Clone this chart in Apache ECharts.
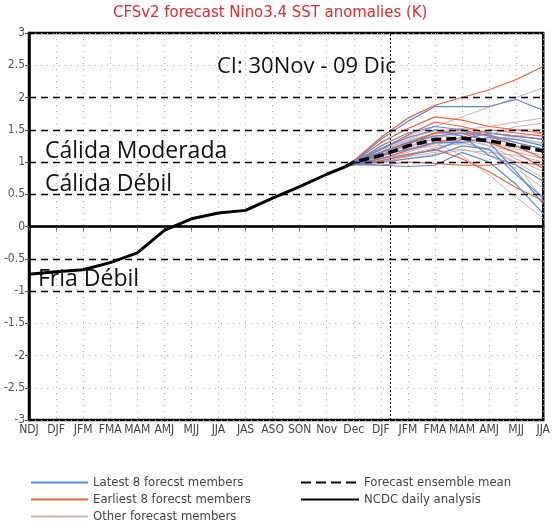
<!DOCTYPE html>
<html>
<head>
<meta charset="utf-8">
<script src="https://cdn.jsdelivr.net/npm/echarts@6/dist/echarts.min.js"></script>
<style>
  html, body { margin: 0; padding: 0; background: #fff; }
  #chart { width: 553px; height: 528px; }
</style>
</head>
<body>
<div id="chart"></div>
<script>
// x axis labels, one per month-season position
const months = ['NDJ', 'DJF', 'JFM', 'FMA', 'MAM', 'AMJ', 'MJJ', 'JJA', 'JAS', 'ASO', 'SON', 'Nov',
  'Dec', 'DJF', 'JFM', 'FMA', 'MAM', 'AMJ', 'MJJ', 'JJA']

// NCDC daily analysis (observed), positions on the month axis
const ncdcX = [0, 1, 2, 3, 4, 5, 6, 7, 8, 9, 10, 11, 11.7]
const ncdcY = [-0.74, -0.70, -0.67, -0.56, -0.41, -0.06, 0.12, 0.21, 0.25, 0.44, 0.62, 0.81, 0.93]

// forecast positions: start point then Dec..JJA
const fcX = [11.7, 12, 13, 14, 15, 16, 17, 18, 19]
const fcStart = 0.93

const ensembleMean = [1.00, 1.10, 1.25, 1.35, 1.37, 1.33, 1.25, 1.17]

const latest8 = [
  [1.00, 1.35, 1.63, 1.86, 1.86, 1.86, 1.97, 1.80],
  [0.98, 1.25, 1.45, 1.55, 1.50, 1.30, 0.85, 0.35],
  [0.97, 1.15, 1.30, 1.40, 1.45, 1.42, 1.30, 1.20],
  [0.96, 1.00, 1.05, 1.10, 1.25, 1.20, 0.80, 0.45],
  [0.97, 0.95, 0.93, 0.95, 1.15, 1.00, 0.65, 0.20],
  [0.98, 1.10, 1.20, 1.30, 1.30, 1.38, 1.35, 1.25],
  [0.96, 1.05, 1.12, 1.18, 1.35, 1.45, 1.40, 1.35],
  [0.99, 1.20, 1.38, 1.50, 1.40, 1.10, 0.95, 0.70]
]

const earliest8 = [
  [1.02, 1.38, 1.68, 1.88, 2.00, 2.12, 2.28, 2.48],
  [1.00, 1.30, 1.52, 1.70, 1.65, 1.55, 1.50, 1.45],
  [0.99, 1.20, 1.42, 1.62, 1.55, 1.45, 1.40, 1.35],
  [0.98, 1.10, 1.28, 1.45, 1.50, 1.40, 1.25, 1.05],
  [0.97, 1.02, 1.10, 1.20, 1.05, 0.85, 0.60, 0.40],
  [0.96, 0.95, 1.00, 0.98, 0.95, 0.95, 1.00, 0.95],
  [1.00, 1.15, 1.30, 1.45, 1.45, 1.30, 1.15, 0.90],
  [0.98, 1.05, 1.18, 1.30, 1.38, 1.50, 1.45, 1.40]
]

const otherMembers = [
  [0.98, 1.20, 1.40, 1.55, 1.70, 1.85, 2.00, 2.15],
  [0.97, 1.10, 1.25, 1.30, 1.10, 0.80, 0.45, 0.13],
  [0.99, 1.15, 1.32, 1.45, 1.50, 1.55, 1.62, 1.68],
  [0.98, 1.12, 1.28, 1.40, 1.45, 1.40, 1.35, 1.30],
  [0.97, 1.05, 1.18, 1.30, 1.35, 1.30, 1.20, 1.10],
  [1.00, 1.18, 1.35, 1.50, 1.40, 1.25, 1.05, 0.85],
  [0.96, 1.02, 1.12, 1.22, 1.30, 1.20, 1.00, 0.75],
  [0.98, 1.08, 1.22, 1.38, 1.42, 1.48, 1.50, 1.50],
  [0.97, 1.00, 1.08, 1.15, 1.20, 1.10, 0.90, 0.60],
  [0.99, 1.14, 1.30, 1.42, 1.35, 1.25, 1.15, 1.05],
  [0.98, 1.10, 1.20, 1.25, 1.28, 1.35, 1.40, 1.45],
  [0.96, 0.98, 1.05, 1.12, 1.18, 1.15, 1.10, 1.00],
  [1.01, 1.22, 1.38, 1.48, 1.52, 1.45, 1.38, 1.28],
  [0.97, 1.06, 1.15, 1.28, 1.32, 1.38, 1.30, 1.20],
  [0.98, 1.12, 1.25, 1.35, 1.30, 1.18, 0.98, 0.40],
  [0.99, 1.16, 1.34, 1.44, 1.48, 1.42, 1.55, 1.60]
]

// ENSO threshold lines and the current-date marker
const thresholds = [2, 1.5, 1, 0.5, -0.5, -1]
const nowMarkX = 13.33

const NAMES = {
  latest: 'Latest 8 forecst members',
  earliest: 'Earliest 8 forecst members',
  other: 'Other forecast members',
  mean: 'Forecast ensemble mean',
  ncdc: 'NCDC daily analysis'
}

const condFont = '"DejaVu Sans Condensed", "Liberation Sans Narrow", sans-serif'
const noteFont = '"Open Sans", "Noto Sans", sans-serif'

const toPairs = (vals) => [[fcX[0], fcStart]].concat(vals.map((v, i) => [fcX[i + 1], v]))

const memberSeries = (list, name, color, width) =>
  list.map((vals) => ({
    name,
    type: 'line',
    data: toPairs(vals),
    symbol: 'none',
    silent: true,
    lineStyle: { color, width },
    itemStyle: { color },
    z: 2
  }))

const legendBase = {
  orient: 'vertical',
  top: 476,
  padding: 0,
  itemHeight: 12,
  itemGap: 4,
  itemStyle: { opacity: 0 },
  textStyle: { color: '#444', fontSize: 13, fontFamily: condFont }
}

const chart = echarts.init(document.getElementById('chart'))

const option = {
  animation: false,
  title: {
    text: 'CFSv2 forecast Nino3.4 SST anomalies (K)',
    left: 113,
    top: 4,
    padding: 0,
    textStyle: { color: '#e8262c', fontSize: 16.6, fontWeight: 'normal', fontFamily: condFont }
  },
  legend: [
    Object.assign({}, legendBase, {
      left: 30,
      itemWidth: 57,
      data: [NAMES.latest, NAMES.earliest, NAMES.other]
    }),
    Object.assign({}, legendBase, {
      left: 300,
      itemWidth: 58,
      data: [NAMES.mean, NAMES.ncdc]
    })
  ],
  grid: {
    left: 29,
    right: 8,
    top: 33,
    bottom: 108,
    show: true,
    borderColor: '#000',
    borderWidth: 2.5
  },
  xAxis: {
    type: 'value',
    min: 0,
    max: 19,
    interval: 1,
    axisLine: { lineStyle: { color: '#000', width: 2.5 } },
    axisTick: { show: true, length: 4, lineStyle: { color: '#555' } },
    axisLabel: {
      color: '#444',
      fontSize: 12,
      fontFamily: condFont,
      margin: 4,
      formatter: (v) => months[v] || ''
    },
    splitLine: { show: true, lineStyle: { color: '#aaa', type: [1, 5], width: 1 } }
  },
  yAxis: {
    type: 'value',
    min: -3,
    max: 3,
    interval: 0.5,
    axisLine: { lineStyle: { color: '#000', width: 2.5 } },
    axisTick: { show: true, length: 4, lineStyle: { color: '#555' } },
    axisLabel: { color: '#555', fontSize: 12, fontFamily: condFont, margin: 4 },
    splitLine: { show: true, lineStyle: { color: '#aaa', type: [1, 5], width: 1 } }
  },
  graphic: [
    { type: 'text', x: 217, y: 67, z: 100, style: { text: 'CI: 30Nov - 09 Dic', font: '22px ' + noteFont, fill: '#111', verticalAlign: 'middle' } },
    { type: 'text', x: 45, y: 151, z: 100, style: { text: 'Cálida Moderada', font: '23px ' + noteFont, fill: '#111', verticalAlign: 'middle' } },
    { type: 'text', x: 45, y: 184, z: 100, style: { text: 'Cálida Débil', font: '23px ' + noteFont, fill: '#111', verticalAlign: 'middle' } },
    { type: 'text', x: 38, y: 279, z: 100, style: { text: 'Fria Débil', font: '23px ' + noteFont, fill: '#111', verticalAlign: 'middle' } }
  ],
  series: [
    ...memberSeries(otherMembers, NAMES.other, '#cfb0b0', 1),
    ...memberSeries(earliest8, NAMES.earliest, '#f0603e', 1.2),
    ...memberSeries(latest8, NAMES.latest, '#5a8ad8', 1.2),
    {
      name: NAMES.mean,
      type: 'line',
      data: toPairs(ensembleMean),
      symbol: 'none',
      lineStyle: { color: '#000', width: 3.5, type: [10, 5] },
      itemStyle: { color: '#000' },
      z: 5
    },
    {
      name: NAMES.ncdc,
      type: 'line',
      data: ncdcX.map((x, i) => [x, ncdcY[i]]),
      symbol: 'none',
      lineStyle: { color: '#000', width: 3 },
      itemStyle: { color: '#000' },
      z: 6,
      markLine: {
        silent: true,
        symbol: 'none',
        label: { show: false },
        data: [
          ...thresholds.map((t) => ({ yAxis: t, lineStyle: { color: '#000', width: 1.3, type: [7, 5] } })),
          { yAxis: 0, lineStyle: { color: '#000', width: 1.3, type: 'solid' } },
          { xAxis: nowMarkX, lineStyle: { color: '#000', width: 1, type: [2, 2] } }
        ]
      }
    }
  ]
}

chart.setOption(option)
</script>
</body>
</html>
